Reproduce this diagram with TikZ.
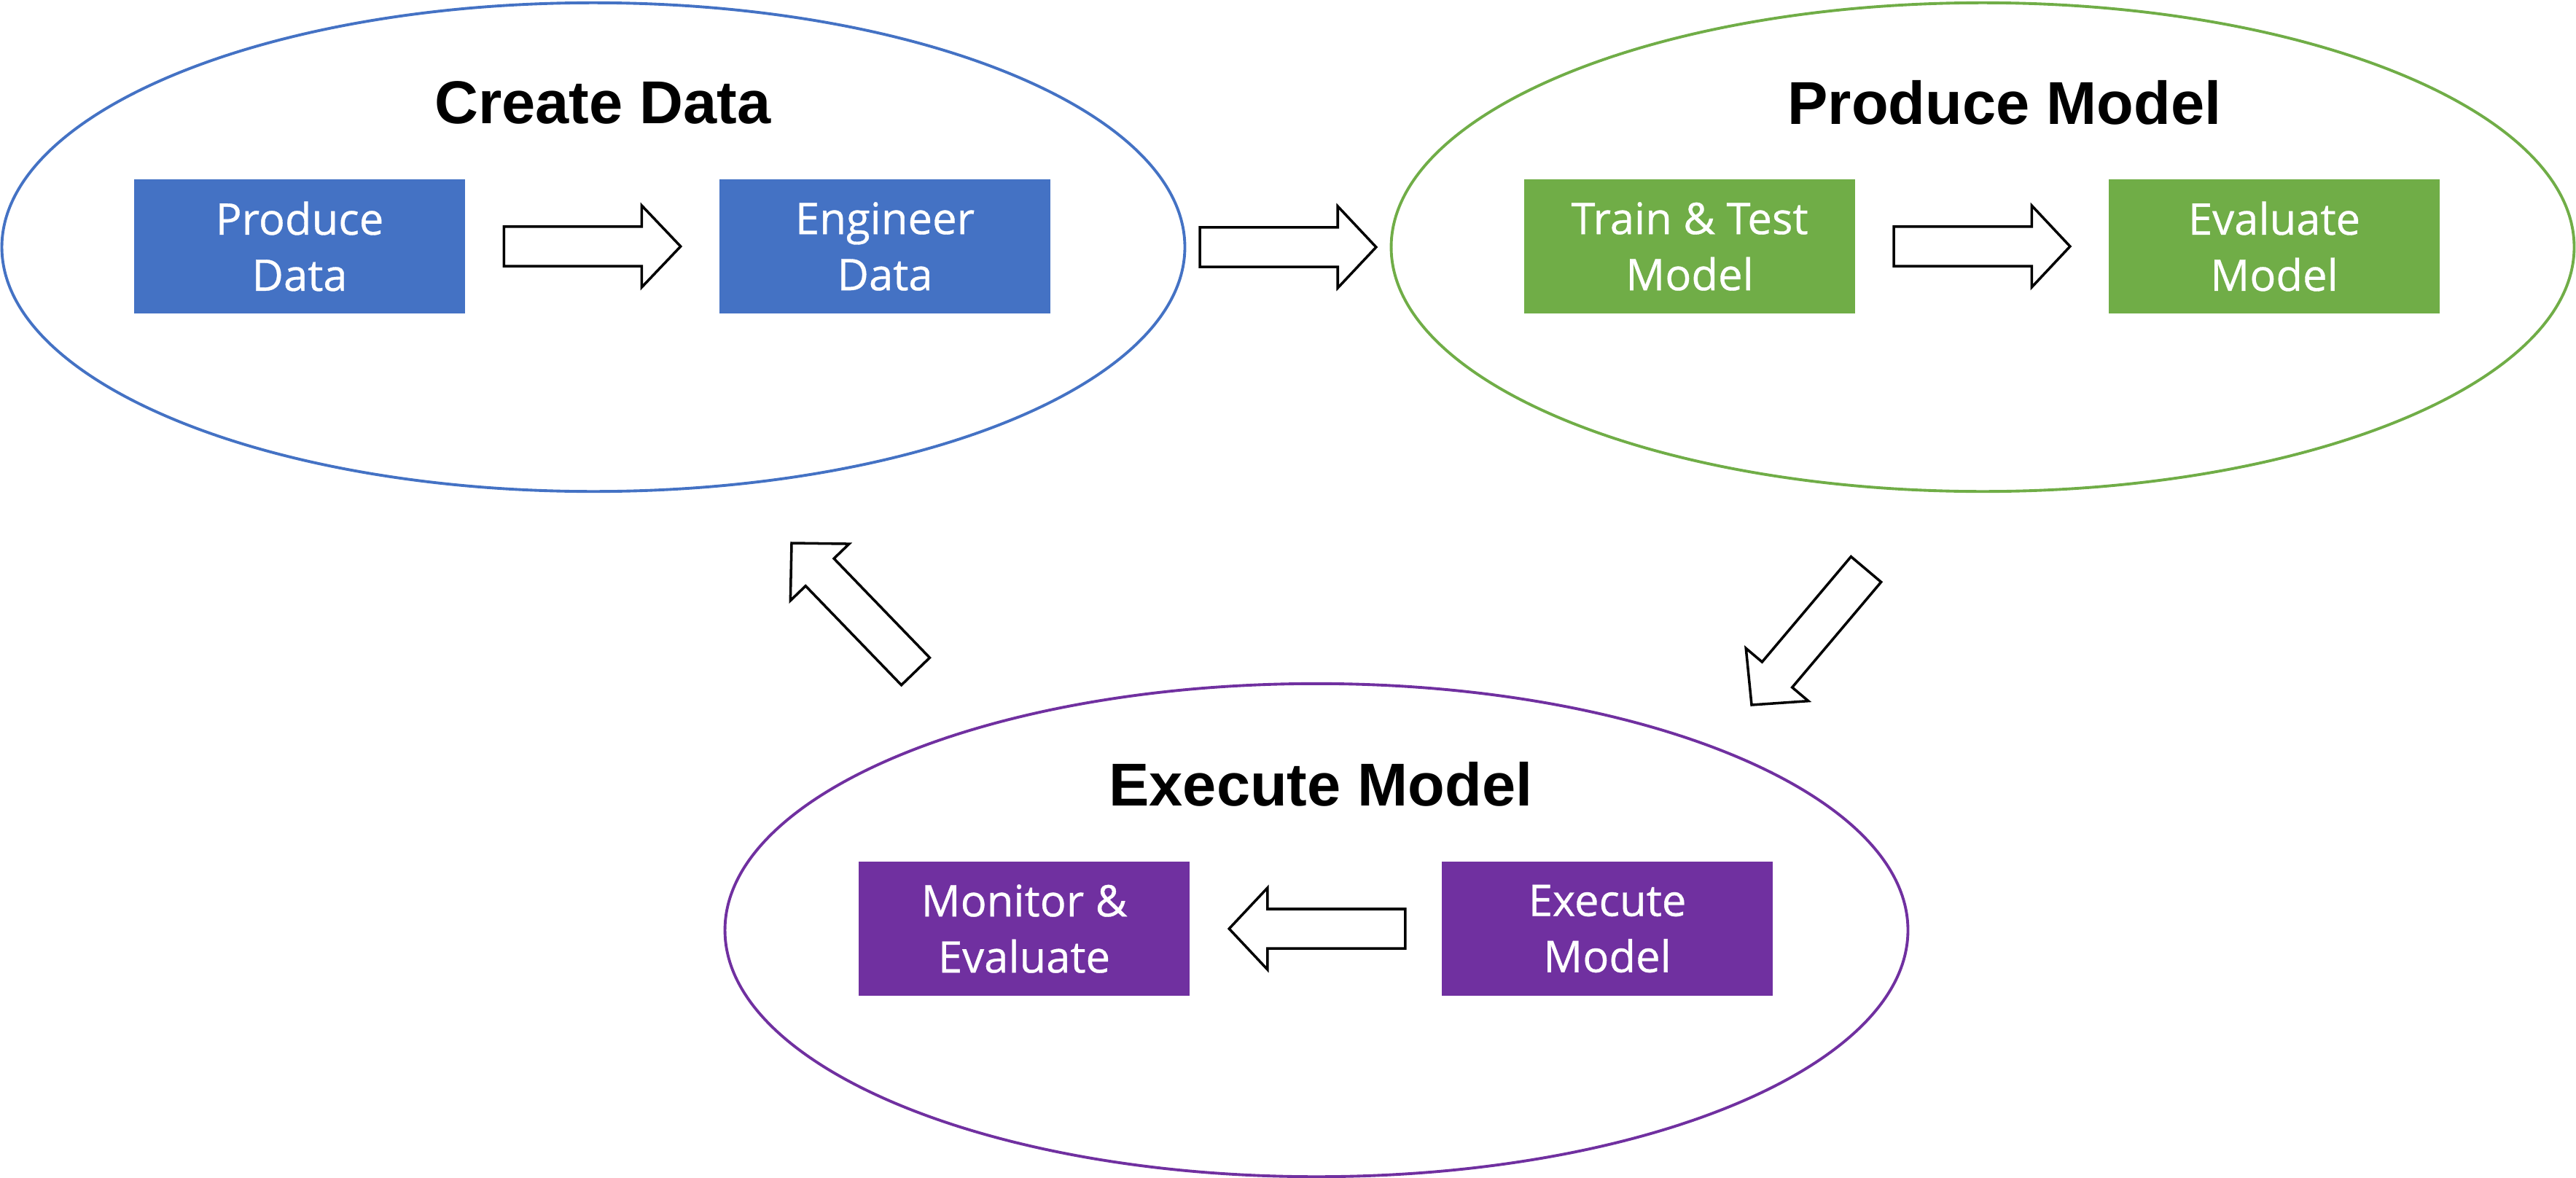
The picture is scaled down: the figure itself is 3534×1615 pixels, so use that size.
\documentclass[tikz,border=0pt]{standalone}
\usepackage{fontspec}
\setmainfont{Liberation Sans}
\newfontfamily\boxfont[FakeBold=0.6]{Open Sans}
\usetikzlibrary{shapes.geometric,calc}
\definecolor{cblue}{HTML}{4472C4}
\definecolor{cgreen}{HTML}{70AD47}
\definecolor{cpurple}{HTML}{7030A0}
\newcommand\blockarrow[2]{%
  \coordinate (ba-n) at ($(#1)!1.89cm!(#2)$);
  \draw[blk] ($(#1)!0.27cm!90:(#2)$) -- ($(ba-n)!0.27cm!90:(#2)$) -- ($(ba-n)!0.56cm!90:(#2)$) -- (#2)
    -- ($(ba-n)!0.56cm!-90:(#2)$) -- ($(ba-n)!0.27cm!-90:(#2)$) -- ($(#1)!0.27cm!-90:(#2)$) -- cycle;
}
\begin{document}
\begin{tikzpicture}[x=0.01cm,y=-0.01cm,
  phase/.style={ellipse, draw, line width=1.1pt, minimum width=16.22cm, minimum height=6.7cm, inner sep=0pt},
  ptitle/.style={font=\fontsize{23.6}{28}\selectfont\bfseries, inner sep=0pt},
  stepbox/.style={minimum width=4.53cm, minimum height=1.84cm, inner sep=0pt, text=white, align=center,
    font=\boxfont\fontsize{17}{21.9}\selectfont},
  blk/.style={draw=black, line width=1pt, fill=white, line join=miter}]
\useasboundingbox (0,0) rectangle (3534,1615);

% phases
\node[phase, draw=cblue] (cd) at (814,339) {};
\node[phase, draw=cgreen] (pm) at (2720,339) {};
\node[phase, draw=cpurple, minimum height=6.76cm] (em) at (1806,1276) {};

\node[ptitle] (tcd) at (827,141) {Create Data};
\node[ptitle] (tpm) at (2750,141) {Produce Model};
\node[ptitle] (tem) at (1812,1076) {Execute Model};

% steps
\node[stepbox, fill=cblue] (pd) at (411,338) {Produce\\Data};
\node[stepbox, fill=cblue] (ed) at (1214,338) {Engineer\\Data};
\node[stepbox, fill=cgreen] (tt) at (2318,338) {Train \& Test\\Model};
\node[stepbox, fill=cgreen] (ev) at (3120,338) {Evaluate\\Model};
\node[stepbox, fill=cpurple] (me) at (1405,1274) {Monitor \&\\Evaluate};
\node[stepbox, fill=cpurple] (ex) at (2205,1274) {Execute\\Model};

% connector end points
\coordinate (a1s) at ($(pd.east)!0.152!(ed.west)$);
\coordinate (a1e) at ($(pd.east)!0.848!(ed.west)$);
\coordinate (a2s) at ($(cd.east)!0.067!(pm.west)$);
\coordinate (a2e) at ($(cd.east)!0.933!(pm.west)$);
\coordinate (a3s) at ($(tt.east)!0.152!(ev.west)$);
\coordinate (a3e) at ($(tt.east)!0.848!(ev.west)$);
\coordinate (a4s) at (2560,781);
\coordinate (a4e) at (2403,967);
\coordinate (a5s) at ($(ex.west)!0.144!(me.east)$);
\coordinate (a5e) at ($(ex.west)!0.844!(me.east)$);
\coordinate (a6s) at (1256,921);
\coordinate (a6e) at (1086,745);

\blockarrow{a1s}{a1e}
\blockarrow{a2s}{a2e}
\blockarrow{a3s}{a3e}
\blockarrow{a4s}{a4e}
\blockarrow{a5s}{a5e}
\blockarrow{a6s}{a6e}
\end{tikzpicture}
\end{document}
